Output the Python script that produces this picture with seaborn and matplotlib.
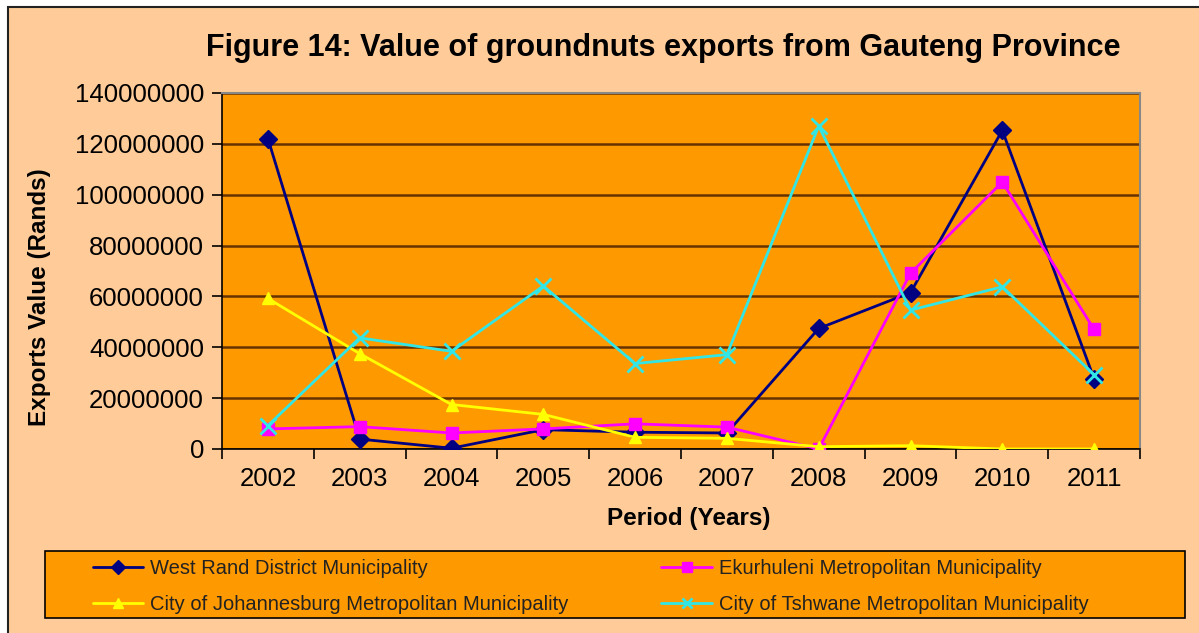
import numpy as np
import pandas as pd
import seaborn as sns
from matplotlib import pyplot as plt
from matplotlib.patches import Rectangle
from matplotlib.ticker import FixedLocator

# Data
years = [2002, 2003, 2004, 2005, 2006, 2007, 2008, 2009, 2010, 2011]
west_rand = [122.1, 3.9, 0.3, 7.6, 6.6, 6.3, 47.4, 61.5, 125.3, 27.6]
ekurhuleni = [7.9, 8.8, 6.3, 7.9, 9.9, 8.6, 0.0, 69.1, 105.0, 47.0]
johannesburg = [59.2, 37.5, 17.5, 13.6, 4.6, 4.2, 0.9, 1.3, 0.0, 0.0]
tshwane = [9.2, 43.7, 38.4, 64.1, 33.6, 37.1, 127.0, 54.6, 63.8, 29.2]

names = ["West Rand District Municipality",
         "Ekurhuleni Metropolitan Municipality",
         "City of Johannesburg Metropolitan Municipality",
         "City of Tshwane Metropolitan Municipality"]
series = [west_rand, ekurhuleni, johannesburg, tshwane]

colors = {names[0]: "#000080", names[1]: "#FF00FF", names[2]: "#FFFF00", names[3]: "#33E6E6"}
marks = {names[0]: "D", names[1]: "s", names[2]: "^", names[3]: "x"}

sns.set_style("white")
plt.rcParams["font.family"] = ["Liberation Sans", "DejaVu Sans"]
plt.rcParams["text.color"] = "black"
plt.rcParams["axes.labelcolor"] = "black"
plt.rcParams["xtick.color"] = "black"
plt.rcParams["ytick.color"] = "black"

fig = plt.figure(figsize=(11.99, 6.33), dpi=100, facecolor="white")
# peach chart area with thin border
fig.patches.append(Rectangle((8 / 1199, -0.01), 1.1, 1 - 7 / 633 + 0.01, transform=fig.transFigure,
                             facecolor="#FFCC99", edgecolor="#222222", linewidth=1.5, zorder=-5))
# legend box
fig.patches.append(Rectangle((45 / 1199, 1 - 618 / 633), 1140 / 1199, 67 / 633, transform=fig.transFigure,
                             facecolor="#FF9900", edgecolor="black", linewidth=1.2, zorder=-4))

ax = fig.add_axes([222 / 1199, (633 - 449) / 633, (1140 - 222) / 1199, (449 - 93) / 633])
ax.set_facecolor("#FF9900")

for name, vals in zip(names, series):
    df = pd.DataFrame({"Year": years, "Value": np.array(vals) * 1e6})
    m = marks[name]
    sns.lineplot(data=df, x="Year", y="Value", color=colors[name], marker=m,
                 markersize=11 if m == "x" else 9, markeredgecolor=colors[name],
                 markeredgewidth=2 if m == "x" else 1, linewidth=2, ax=ax, zorder=3)

ax.set_ylim(0, 140e6)
ax.set_xlim(years[0] - 0.5, years[-1] + 0.5)
ax.set_yticks(np.arange(0, 140e6 + 1, 20e6))
ax.set_yticklabels([str(int(v)) for v in np.arange(0, 140e6 + 1, 20e6)], fontsize=18.5)
ax.set_xticks(years)
ax.set_xticklabels([str(y) for y in years], fontsize=18.5)
ax.xaxis.set_minor_locator(FixedLocator(np.arange(years[0] - 0.5, years[-1] + 0.6, 1)))
ax.tick_params(axis="x", which="major", length=0, pad=13)
ax.tick_params(axis="x", which="minor", length=7, width=1.2, color="black", direction="out", bottom=True)
ax.tick_params(axis="y", length=7, width=1.2, color="black", direction="out", left=True, pad=6)

ax.grid(axis="y", color="#663300", linewidth=1.8)
ax.set_axisbelow(True)
for s in ["left", "bottom"]:
    ax.spines[s].set_color("black")
    ax.spines[s].set_linewidth(1.2)
for s in ["top", "right"]:
    ax.spines[s].set_color("#888888")
    ax.spines[s].set_linewidth(1.5)

ax.set_xlabel("Period (Years)", fontsize=17.5, fontweight="bold")
ax.xaxis.set_label_coords((689 - 222) / 918, (449 - 518) / 356)
ax.set_ylabel("Exports Value (Rands)", fontsize=17.5, fontweight="bold")
ax.yaxis.set_label_coords((40 - 222) / 918, (449 - 297) / 356)
ax.xaxis.label.set_va("center")
ax.yaxis.label.set_va("center")
fig.text(663 / 1199, 1 - 48 / 633, "Figure 14: Value of groundnuts exports from Gauteng Province",
         ha="center", va="center", fontsize=22, fontweight="bold")

# legend, row-wise order
order = [0, 2, 1, 3]
handles = [plt.Line2D([], [], color=colors[names[i]], marker=marks[names[i]], markersize=7, linewidth=2,
                      markeredgecolor=colors[names[i]],
                      markeredgewidth=2 if marks[names[i]] == "x" else 1)
           for i in order]
leg = fig.legend(handles, [names[i] for i in order], ncol=2, loc="upper left",
                 bbox_to_anchor=(93 / 1199, 1 - 559 / 633),
                 fontsize=14.5, frameon=False, handlelength=2.5, handletextpad=0.35,
                 borderpad=0, borderaxespad=0, labelspacing=0.85, columnspacing=4.6)
for t in leg.get_texts():
    t.set_color("#222222")

fig.savefig("out.png", dpi=100, facecolor=fig.get_facecolor())
